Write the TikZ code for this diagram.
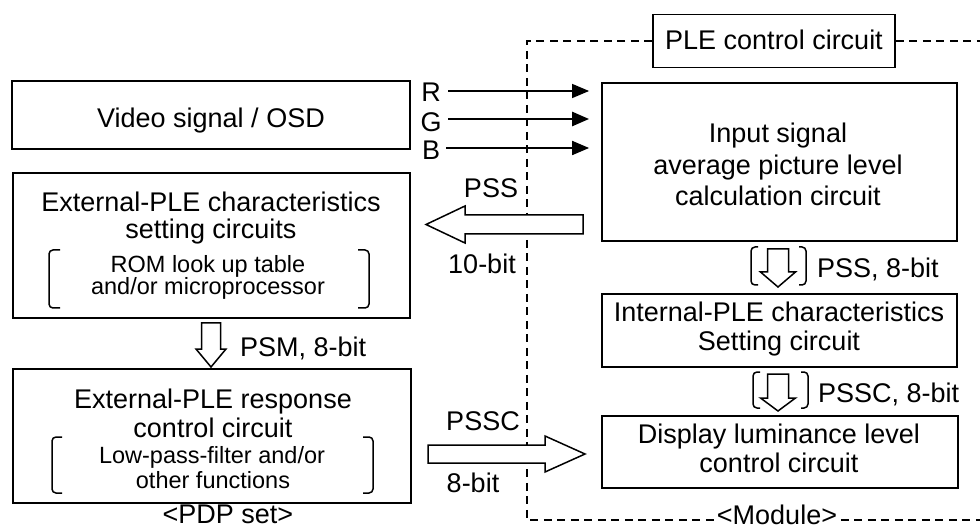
\documentclass[tikz,border=0pt]{standalone}
\usepackage{fontspec}
\setmainfont{Liberation Sans}
\usetikzlibrary{arrows.meta,calc}
\newcommand\lblfont{\fontsize{27}{27}\selectfont}
\newcommand\subfont{\fontsize{23.5}{23.5}\selectfont}
\begin{document}
\begin{tikzpicture}[x=1pt,y=-1pt,
  box/.style={draw,line width=1.8pt,inner sep=0pt},
  txt/.style={anchor=base,inner sep=0pt,font=\lblfont},
  sub/.style={anchor=base,inner sep=0pt,font=\subfont},
  frame/.style={line width=1.8pt,dash pattern=on 8pt off 5.5pt},
  rgb/.style={-{Triangle[length=17pt,width=14pt]}},
  hollow/.style={draw,line width=1.5pt,fill=white,line join=miter},
  brk/.style={line width=1.5pt,rounded corners=4pt}]

\useasboundingbox (0,0) rectangle (980,529);

% ---- blocks ----
\node[box,minimum width=398pt,minimum height=68pt]  (vid)  at (211,115)   {};
\node[box,minimum width=397pt,minimum height=145pt] (ext)  at (211.5,245.5) {};
\node[box,minimum width=398pt,minimum height=134pt] (resp) at (212,436)   {};
\node[box,minimum width=242pt,minimum height=53pt]  (ple)  at (774,41)    {};
\node[box,minimum width=355pt,minimum height=158pt] (inp)  at (779.5,162) {};
\node[box,minimum width=355pt,minimum height=73pt]  (int)  at (779.5,330.5) {};
\node[box,minimum width=356pt,minimum height=72pt]  (disp) at (780,452)   {};

% ---- module frame (dashed) ----
\coordinate (fc) at (527,41);
\coordinate (fb) at (527,520);
\coordinate (fr) at (980,520);
\draw[frame] (ple.west) -- (fc) -- (fb) -- (fr);
\draw[frame] (ple.east) -- (ple.east -| fr);

% ---- R, G, B signal lines ----
\coordinate (r0) at (448,91);
\coordinate (g0) at (448,119);
\coordinate (b0) at (446,148);
\draw[rgb,line width=1.4pt,shorten >=12pt] (r0) -- (r0 -| inp.west);
\draw[rgb,line width=2.6pt,shorten >=12pt] (g0) -- (g0 -| inp.west);
\draw[rgb,line width=1.8pt,shorten >=12pt] (b0) -- (b0 -| inp.west);

% ---- hollow bus arrows ----
% PSS, 10-bit (input average -> external characteristics)
\coordinate (pssS) at (583,224.5);
\coordinate (pssP) at (426,224.5);
\draw[hollow] ($(pssS)+(0,-9.5)$) -- ($(pssP)+(39,-9.5)$) -- ($(pssP)+(39,-18.5)$)
  -- (pssP) -- ($(pssP)+(39,18.5)$) -- ($(pssP)+(39,9.5)$) -- ($(pssS)+(0,9.5)$) -- cycle;
% PSSC, 8-bit (external response -> display luminance)
\coordinate (psscS) at (428,454);
\coordinate (psscP) at (585,454);
\draw[hollow] ($(psscS)+(0,-9)$) -- ($(psscP)+(-40,-9)$) -- ($(psscP)+(-40,-18)$)
  -- (psscP) -- ($(psscP)+(-40,18)$) -- ($(psscP)+(-40,9)$) -- ($(psscS)+(0,9)$) -- cycle;
% PSM, 8-bit
\coordinate (psmT) at (211,323);
\coordinate (psmP) at (211,367);
\draw[hollow] ($(psmT)+(-9.5,0)$) -- ($(psmP)+(-9.5,-18)$) -- ($(psmP)+(-15,-18)$)
  -- (psmP) -- ($(psmP)+(15,-18)$) -- ($(psmP)+(9.5,-18)$) -- ($(psmT)+(9.5,0)$) -- cycle;
% PSS, 8-bit (inside module)
\coordinate (d1T) at (778,249);
\coordinate (d1P) at (778,287);
\draw[hollow] ($(d1T)+(-10.5,0)$) -- ($(d1P)+(-10.5,-15)$) -- ($(d1P)+(-17.5,-15)$)
  -- (d1P) -- ($(d1P)+(17.5,-15)$) -- ($(d1P)+(10.5,-15)$) -- ($(d1T)+(10.5,0)$) -- cycle;
% PSSC, 8-bit (inside module)
\coordinate (d2T) at (778,374);
\coordinate (d2P) at (778,411);
\draw[hollow] ($(d2T)+(-10.5,0)$) -- ($(d2P)+(-10.5,-13)$) -- ($(d2P)+(-17.5,-13)$)
  -- (d2P) -- ($(d2P)+(17.5,-13)$) -- ($(d2P)+(10.5,-13)$) -- ($(d2T)+(10.5,0)$) -- cycle;

% ---- brackets ----
\draw[brk] (60,250) -- (49,250) -- (49,308) -- (60,308);
\draw[brk] (358,250) -- (369,250) -- (369,308) -- (358,308);
\draw[brk] (62,437) -- (52,437) -- (52,493) -- (62,493);
\draw[brk] (363,437) -- (373,437) -- (373,493) -- (363,493);
\draw[brk] (758,247) -- (751,247) -- (751,285) -- (758,285);
\draw[brk] (799,247) -- (806,247) -- (806,285) -- (799,285);
\draw[brk] (760,372) -- (753,372) -- (753,408) -- (760,408);
\draw[brk] (801,372) -- (808,372) -- (808,408) -- (801,408);

% ---- block texts ----
\node[txt] (vidT) at (211,128) {Video signal / OSD};
\node[txt] (ext1) at (211,212) {External-PLE characteristics};
\node[txt] (ext2) at (211,239) {setting circuits};
\node[sub] (ext3) at (208,272.5) {ROM look up table};
\node[sub] (ext4) at (208,295) {and/or microprocessor};
\node[txt] (resp1) at (213,408) {External-PLE response};
\node[txt] (resp2) at (213,437) {control circuit};
\node[sub] (resp3) at (212,463) {Low-pass-filter and/or};
\node[sub] (resp4) at (213,488) {other functions};
\node[txt] (pdp) at (228,523) {<PDP set>};
\node[txt] (pleT) at (774,50) {PLE control circuit};
\node[txt] (inp1) at (778,143) {Input signal};
\node[txt] (inp2) at (778,174.5) {average picture level};
\node[txt] (inp3) at (778,206) {calculation circuit};
\node[txt] (int1) at (779,322) {Internal-PLE characteristics};
\node[txt] (int2) at (779,351) {Setting circuit};
\node[txt] (disp1) at (779,443) {Display luminance level};
\node[txt] (disp2) at (779,472) {control circuit};

% ---- signal labels ----
\node[txt] (lR) at (431,102) {R};
\node[txt] (lG) at (431,132) {G};
\node[txt] (lB) at (431,160) {B};
\node[txt] (lpss) at (491,198) {PSS};
\node[txt] (l10) at (482,274) {10-bit};
\node[txt] (lpssc) at (483,430) {PSSC};
\node[txt] (l8) at (473,492) {8-bit};
\node[txt,anchor=base west] (lpsm) at (240,356) {PSM, 8-bit};
\node[txt,anchor=base west] (lpss8) at (817,278) {PSS, 8-bit};
\node[txt,anchor=base west] (lpssc8) at (818,402) {PSSC, 8-bit};
\node[txt,fill=white,inner xsep=2pt] (mod) at (777,524) {<Module>};
\end{tikzpicture}
\end{document}
